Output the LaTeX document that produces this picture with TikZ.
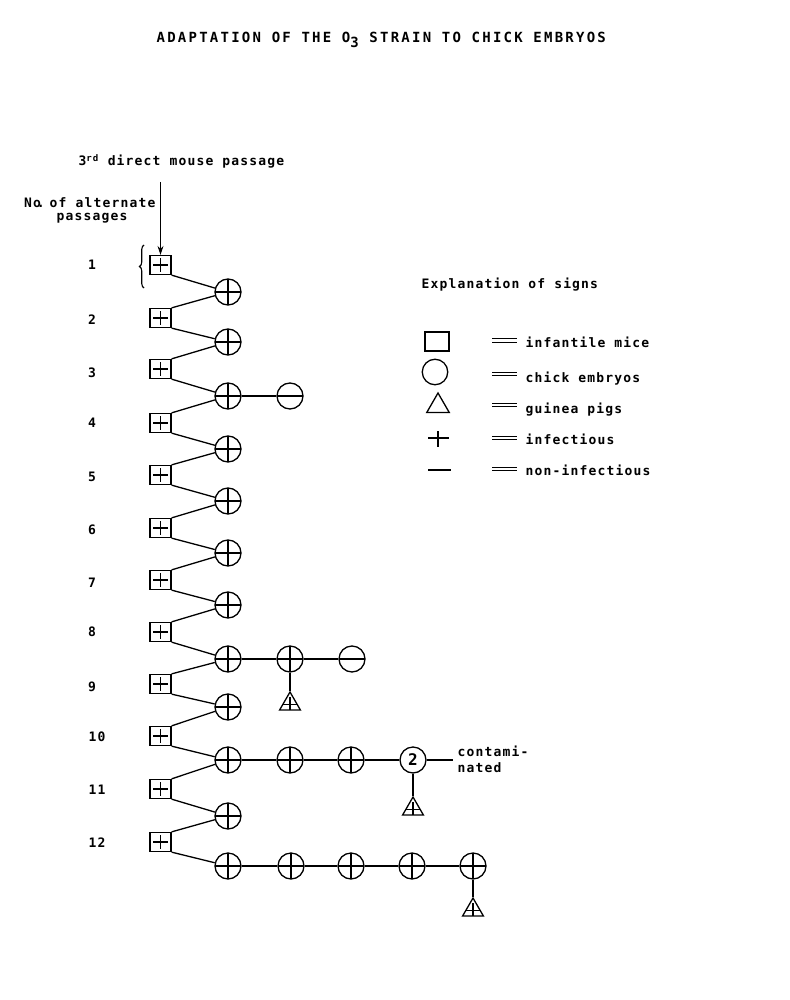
\documentclass[tikz,border=0pt]{standalone}
\usepackage{fontspec}
\setmainfont{DejaVu Sans Mono}
\newfontfamily\titlefont[LetterSpace=16]{DejaVu Sans Mono}
\newfontfamily\bodyfont[LetterSpace=9]{DejaVu Sans Mono}
\usetikzlibrary{shapes.geometric,decorations.pathreplacing,arrows.meta}
\begin{document}
\begin{tikzpicture}[x=1pt,y=-1pt,line width=1.3pt,
 bodytxt/.style={inner sep=0pt, font=\bodyfont\bfseries\fontsize{13}{15}\selectfont},
 plussq/.style={draw, rectangle, minimum width=21pt, minimum height=19pt, inner sep=0pt,
   path picture={\draw ([xshift=3pt]path picture bounding box.west) -- ([xshift=-3pt]path picture bounding box.east);
                 \draw ([yshift=-2.5pt]path picture bounding box.north) -- ([yshift=2.5pt]path picture bounding box.south);}},
 pluscirc/.style={draw, circle, minimum size=26pt, inner sep=0pt,
   path picture={\draw (path picture bounding box.west) -- (path picture bounding box.east);
                 \draw (path picture bounding box.north) -- (path picture bounding box.south);}},
 minuscirc/.style={draw, circle, minimum size=26pt, inner sep=0pt,
   path picture={\draw (path picture bounding box.west) -- (path picture bounding box.east);}},
 plustri/.style={draw, regular polygon, regular polygon sides=3, minimum size=24pt, inner sep=0pt,
   path picture={\draw ([yshift=5.5pt]path picture bounding box.south west) -- ([yshift=5.5pt]path picture bounding box.south east);
                 \draw ([yshift=-5pt]path picture bounding box.north) -- (path picture bounding box.south);}},
 linkline/.style={line width=1.3pt},
 eqline/.style={line width=1.1pt}
]
\useasboundingbox (0,0) rectangle (789,1000);

% title
\node[anchor=base west, inner sep=0pt, font=\titlefont\bfseries\fontsize{14}{16}\selectfont] (title) at (156,43)
  {ADAPTATION OF THE O\raisebox{-5pt}{3} STRAIN TO CHICK EMBRYOS};

% headings
\node[bodytxt, anchor=base west] (mouse) at (78,166) {3\textsuperscript{rd} direct mouse passage};
\node[bodytxt, anchor=base east] (noalt) at (156,208) {No\kern-4pt.\kern-4pt\ of alternate};
\node[bodytxt, anchor=base] (passg) at (92,221) {passages};

% left column
\foreach \i/\sy/\cy/\ly/\lx in {1/265/292/265/92, 2/318/342/320/92, 3/369/396/373/92, 4/423/449/423/92,
   5/475/501/477/92, 6/528/553/530/92, 7/580/605/583/92, 8/632/659/632/92,
   9/684/707/687/92, 10/736/760/737/97, 11/789/816/790/97, 12/842/866/843/97} {
  \node[plussq] (s\i) at (160.5,\sy) {};
  \node[pluscirc] (c\i) at (228,\cy) {};
  \node[bodytxt] (n\i) at (\lx,\ly) {\i};
  \draw[linkline] (s\i.south east) -- (c\i);
}
\foreach \i [evaluate=\i as \j using int(\i+1)] in {1,...,11} {
  \draw[linkline] (c\i) -- (s\j.north east);
}

% arrow and brace
\coordinate (arrtop) at (160.5,182);
\draw[line width=1pt, -{Stealth[length=9pt,width=6pt]}] (arrtop) -- (s1.north);
\draw[line width=1.1pt, decorate, decoration={brace, amplitude=4.5pt}] (144,288) -- (144,245);

% row 3
\node[minuscirc] (m3) at (290,396) {};
\draw[linkline] (c3) -- (m3);

% row 8
\node[pluscirc] (p8b) at (290,659) {};
\node[minuscirc] (m8) at (352,659) {};
\node[plustri] (t8) at (290,704) {};
\draw[linkline] (c8) -- (p8b) -- (m8);
\draw[linkline] (p8b) -- (t8.north);

% row 10
\node[pluscirc] (p10b) at (290,760) {};
\node[pluscirc] (p10c) at (351,760) {};
\node[draw, circle, minimum size=26pt, inner sep=0pt, font=\bfseries\fontsize{16}{16}\selectfont] (q10) at (413,760) {2};
\node[plustri] (t10) at (413,809) {};
\coordinate (ctm) at (453,760);
\draw[linkline] (c10) -- (p10b) -- (p10c) -- (q10) -- (ctm);
\draw[linkline] (q10) -- (t10.north);
\node[bodytxt, anchor=base west] (cont1) at (457,756) {contami-};
\node[bodytxt, anchor=base west] (cont2) at (457,772) {nated};

% row 12
\node[pluscirc] (p12b) at (291,866) {};
\node[pluscirc] (p12c) at (351,866) {};
\node[pluscirc] (p12d) at (412,866) {};
\node[pluscirc] (p12e) at (473,866) {};
\node[plustri] (t12) at (473,910) {};
\draw[linkline] (c12) -- (p12b) -- (p12c) -- (p12d) -- (p12e);
\draw[linkline] (p12e) -- (t12.north);

% legend
\node[bodytxt, anchor=base west] (expl) at (421,288) {Explanation of signs};
\node[draw, rectangle, minimum width=24pt, minimum height=19pt, inner sep=0pt] (lsq) at (437,341.5) {};
\node[draw, circle, minimum size=25.5pt, inner sep=0pt] (lci) at (435,372) {};
\node[draw, regular polygon, regular polygon sides=3, minimum size=26pt, inner sep=0pt] (ltr) at (438,406) {};
\draw (428,438) -- (449,438);
\draw (438,431) -- (438,447);
\draw (428,470) -- (451,470);
\foreach \y in {340.5,374,405,438,469} {
  \draw[eqline] (492,\y-1.8) -- (517,\y-1.8);
  \draw[eqline] (492,\y+1.8) -- (517,\y+1.8);
}
\node[bodytxt, anchor=base west] (l1) at (525,347) {infantile mice};
\node[bodytxt, anchor=base west] (l2) at (525,382) {chick embryos};
\node[bodytxt, anchor=base west] (l3) at (525,413) {guinea pigs};
\node[bodytxt, anchor=base west] (l4) at (525,444) {infectious};
\node[bodytxt, anchor=base west] (l5) at (525,475) {non-infectious};
\end{tikzpicture}
\end{document}
